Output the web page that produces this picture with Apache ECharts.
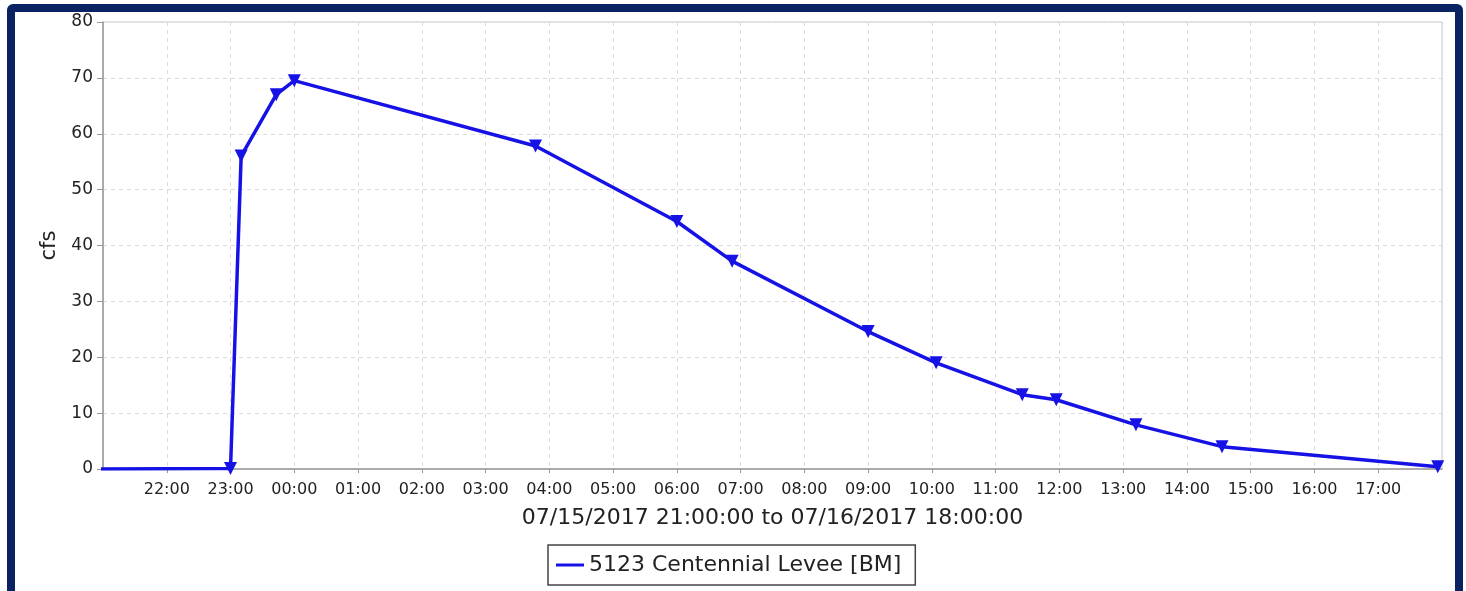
<!DOCTYPE html>
<html>
<head>
<meta charset="utf-8">
<script src="https://cdn.jsdelivr.net/npm/echarts@6/dist/echarts.min.js"></script>
<style>
html,body{margin:0;padding:0;background:#fff;overflow:hidden;}
#chart{position:absolute;left:0;top:0;width:1466px;height:591px;}
#frame{position:absolute;left:7px;top:4px;width:1440px;height:600px;border:8px solid #0b2262;border-radius:6px;pointer-events:none;}
</style>
</head>
<body>
<div id="chart"></div>
<div id="frame"></div>
<script>
const seriesName = '5123 Centennial Levee [BM]';
const startTime = '2017-07-15T21:00:00';
const endTime = '2017-07-16T18:00:00';
const times = ['2017-07-15T20:30:00','2017-07-15T23:00:00','2017-07-15T23:10:00','2017-07-15T23:43:00','2017-07-16T00:00:00','2017-07-16T03:47:00','2017-07-16T06:00:00','2017-07-16T06:52:00','2017-07-16T09:00:00','2017-07-16T10:04:00','2017-07-16T11:25:00','2017-07-16T11:57:00','2017-07-16T13:12:00','2017-07-16T14:33:00','2017-07-16T17:56:00'];
const flows = [0, 0.1, 56, 67, 69.5, 57.8, 44.3, 37.2, 24.6, 19.0, 13.3, 12.4, 7.9, 4.0, 0.4];
const yTicks = [0, 10, 20, 30, 40, 50, 60, 70, 80];
const axisTitle = '07/15/2017 21:00:00 to 07/16/2017 18:00:00';
const yName = 'cfs';

const t0 = new Date(startTime).getTime();
const spanHours = (new Date(endTime).getTime() - t0) / 3600000;
const toHours = s => (new Date(s).getTime() - t0) / 3600000;
const data = times.map((t, i) => [toHours(t), flows[i]]);
const startHour = new Date(startTime).getHours();
const pad = n => (n < 10 ? '0' : '') + n;

const chart = echarts.init(document.getElementById('chart'));
chart.setOption({
  animation: false,
  textStyle: {fontFamily: 'DejaVu Sans'},
  grid: {left: 103, right: 24, top: 22, bottom: 122, show: true, borderColor: '#c8c8c8', borderWidth: 1, backgroundColor: '#fff'},
  xAxis: {
    type: 'value', min: 0, max: spanHours, interval: 1,
    name: axisTitle, nameLocation: 'middle', nameGap: 38,
    nameTextStyle: {fontSize: 22, color: '#222'},
    axisLine: {show: true, lineStyle: {color: '#999', width: 1.5}},
    axisTick: {show: true, length: 4, lineStyle: {color: '#999'}},
    axisLabel: {fontSize: 16, color: '#222', margin: 13, showMinLabel: false, showMaxLabel: false,
      formatter: v => pad((startHour + Math.round(v)) % 24) + ':00'},
    splitLine: {show: true, lineStyle: {color: '#dcdcdc', type: [4, 4]}}
  },
  yAxis: {
    type: 'value', min: yTicks[0], max: yTicks[yTicks.length - 1], interval: yTicks[1] - yTicks[0],
    name: yName, nameLocation: 'middle', nameGap: 40, nameRotate: 90,
    nameTextStyle: {fontSize: 21, color: '#222'},
    axisLine: {show: true, lineStyle: {color: '#999', width: 1.5}},
    axisTick: {show: true, length: 6, lineStyle: {color: '#999'}},
    axisLabel: {fontSize: 17, color: '#222', margin: 10},
    splitLine: {show: true, lineStyle: {color: '#dcdcdc', type: [4, 4]}}
  },
  legend: {
    left: 548, top: 545, orient: 'horizontal',
    data: [{name: seriesName, icon: 'rect'}],
    itemWidth: 28, itemHeight: 3,
    backgroundColor: '#fff', borderColor: '#444', borderWidth: 1.5, borderRadius: 0,
    padding: [9, 14, 9, 8],
    textStyle: {fontSize: 22, color: '#222', fontFamily: 'DejaVu Sans'}
  },
  series: [{
    name: seriesName, type: 'line', data: data, clip: true,
    symbol: 'triangle', symbolRotate: 180, symbolSize: 13,
    lineStyle: {color: '#1612e6', width: 3.5},
    itemStyle: {color: '#1612e6'}
  }]
});
</script>
</body>
</html>
